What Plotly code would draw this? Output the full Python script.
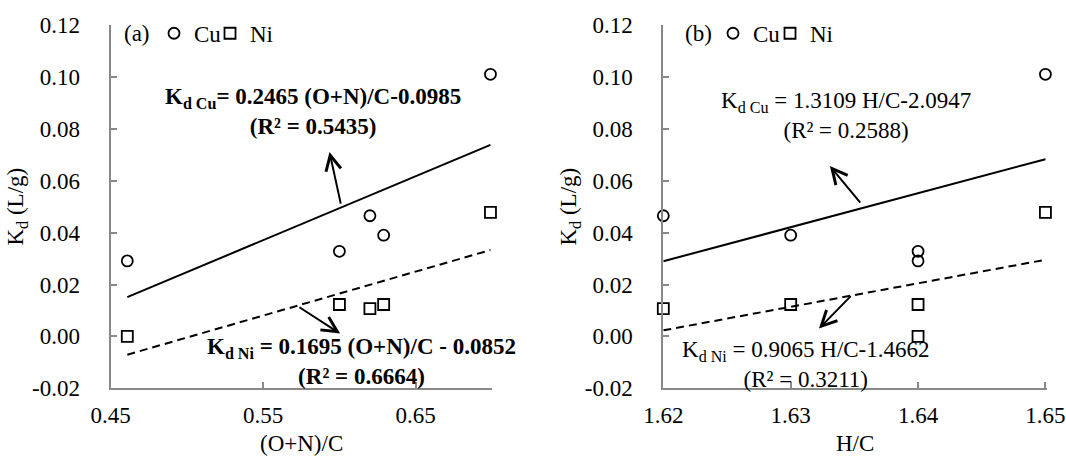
import plotly.graph_objects as go

# ---- data ----
on_c = [0.461, 0.600, 0.620, 0.629, 0.699]      # (O+N)/C
h_c = [1.64, 1.64, 1.62, 1.63, 1.65]            # H/C
kd_cu = [0.0291, 0.0328, 0.0465, 0.0390, 0.1010]
kd_ni = [0.0000, 0.0123, 0.0107, 0.0123, 0.0478]

# linear fits as printed on the chart (slope, intercept)
fit_a_cu = (0.2465, -0.0985)
fit_a_ni = (0.1695, -0.0852)
fit_b_cu = (1.3109, -2.0947)
fit_b_ni = (0.9065, -1.4662)

y_ticks = [-0.02, 0.00, 0.02, 0.04, 0.06, 0.08, 0.10, 0.12]
x_ticks_a = [0.45, 0.55, 0.65]
x_ticks_b = [1.62, 1.63, 1.64, 1.65]

FONT = "Liberation Serif, Times New Roman, serif"
FS = 23
AX_COL = "#898989"
W, H = 1066, 457

fig = go.Figure()


def line_pts(xs, fit):
    x0, x1 = min(xs), max(xs)
    return [x0, x1], [fit[0] * x0 + fit[1], fit[0] * x1 + fit[1]]


def mk(sym):
    return dict(symbol=sym, size=11, color="black", line=dict(width=1.8, color="black"))


# ---- panel (a) ----
lx, ly = line_pts(on_c, fit_a_cu)
fig.add_trace(go.Scatter(x=lx, y=ly, mode="lines", line=dict(color="black", width=2),
                         showlegend=False, xaxis="x", yaxis="y", hoverinfo="skip"))
lx, ly = line_pts(on_c, fit_a_ni)
fig.add_trace(go.Scatter(x=lx, y=ly, mode="lines", line=dict(color="black", width=2, dash="8px,5px"),
                         showlegend=False, xaxis="x", yaxis="y", hoverinfo="skip"))
fig.add_trace(go.Scatter(x=on_c, y=kd_cu, mode="markers", name="Cu", marker=mk("circle-open"),
                         xaxis="x", yaxis="y", legend="legend", cliponaxis=False))
fig.add_trace(go.Scatter(x=on_c, y=kd_ni, mode="markers", name="Ni", marker=mk("square-open"),
                         xaxis="x", yaxis="y", legend="legend2", cliponaxis=False))

# ---- panel (b) ----
lx, ly = line_pts(h_c, fit_b_cu)
fig.add_trace(go.Scatter(x=lx, y=ly, mode="lines", line=dict(color="black", width=2),
                         showlegend=False, xaxis="x2", yaxis="y2", hoverinfo="skip"))
lx, ly = line_pts(h_c, fit_b_ni)
fig.add_trace(go.Scatter(x=lx, y=ly, mode="lines", line=dict(color="black", width=2, dash="8px,5px"),
                         showlegend=False, xaxis="x2", yaxis="y2", hoverinfo="skip"))
fig.add_trace(go.Scatter(x=h_c, y=kd_cu, mode="markers", name="Cu", marker=mk("circle-open"),
                         xaxis="x2", yaxis="y2", legend="legend3", cliponaxis=False))
fig.add_trace(go.Scatter(x=h_c, y=kd_ni, mode="markers", name="Ni", marker=mk("square-open"),
                         xaxis="x2", yaxis="y2", legend="legend4", cliponaxis=False))

dom_a = [110.5 / W, 492.0 / W]
dom_b = [663.3 / W, 1046.7 / W]
dom_y = [1 - 388.3 / H, 1 - 25.0 / H]

tf = dict(family=FONT, size=FS, color="black")
axis_base = dict(showgrid=False, zeroline=False, showline=True, linecolor=AX_COL, linewidth=2,
                 ticks="inside", ticklen=6, tickcolor=AX_COL, tickwidth=1.5,
                 tickfont=dict(family=FONT, size=FS, color="black"), automargin=False)
xa = dict(axis_base, ticklabelstandoff=5)
ya = dict(axis_base, ticklabelstandoff=24, range=[-0.02, 0.12], tickvals=y_ticks,
          ticktext=[f"{v:.2f}" for v in y_ticks],
          title=dict(text="K<sub>d</sub> (L/g)", font=tf, standoff=2))


def leg(xpx):
    return dict(orientation="h", x=xpx / W, y=1 - 33.3 / H, xanchor="left", yanchor="middle",
                font=tf, bgcolor="rgba(0,0,0,0)", itemclick=False, itemdoubleclick=False,
                borderwidth=0)


fig.update_layout(
    template="none",
    width=W, height=H, margin=dict(l=0, r=0, t=0, b=0, autoexpand=False),
    paper_bgcolor="white", plot_bgcolor="white",
    font=tf,
    xaxis=dict(xa, domain=dom_a, range=[0.45, 0.70], tickvals=x_ticks_a,
               ticktext=[f"{v:.2f}" for v in x_ticks_a], anchor="y"),
    yaxis=dict(ya, domain=dom_y, anchor="x"),
    xaxis2=dict(xa, domain=dom_b, range=[1.62, 1.6501], tickvals=x_ticks_b,
                ticktext=[f"{v:.2f}" for v in x_ticks_b], anchor="y2"),
    yaxis2=dict(ya, domain=dom_y, anchor="x2"),
    legend=leg(154), legend2=leg(210), legend3=leg(713), legend4=leg(770),
    showlegend=True,
)

ann = []
# x-axis titles
ann.append(dict(text="(O+N)/C", x=sum(dom_a) / 2, y=1 - 443 / H, xref="paper", yref="paper",
                showarrow=False, xanchor="center", yanchor="middle", font=tf))
ann.append(dict(text="H/C", x=sum(dom_b) / 2, y=1 - 443 / H, xref="paper", yref="paper",
                showarrow=False, xanchor="center", yanchor="middle", font=tf))
# panel labels
ann.append(dict(text="(a)", x=137 / W, y=1 - 33.3 / H, xref="paper", yref="paper", showarrow=False,
                xanchor="center", yanchor="middle", font=tf))
ann.append(dict(text="(b)", x=698 / W, y=1 - 33.3 / H, xref="paper", yref="paper", showarrow=False,
                xanchor="center", yanchor="middle", font=tf))
# equations
ann.append(dict(text="<b>K<sub>d Cu</sub>= 0.2465 (O+N)/C-0.0985<br>(R² = 0.5435)</b>",
                x=0.583, y=0.0868, xref="x", yref="y", showarrow=False, align="center", font=tf))
ann.append(dict(text="<b>K<sub>d Ni</sub> = 0.1695 (O+N)/C - 0.0852<br>(R² = 0.6664)</b>",
                x=0.6147, y=-0.0097, xref="x", yref="y", showarrow=False, align="center", font=tf))
ann.append(dict(text="K<sub>d Cu</sub> = 1.3109 H/C-2.0947<br>(R² = 0.2588)",
                x=1.63432, y=0.0850, xref="x2", yref="y2", showarrow=False, align="center", font=tf))
ann.append(dict(text="K<sub>d Ni</sub> = 0.9065 H/C-1.4662<br>(R² = 0.3211)",
                x=1.63117, y=-0.0108, xref="x2", yref="y2", showarrow=False, align="center", font=tf))
# arrows
arrow = dict(text="", showarrow=True, arrowhead=5, arrowsize=1.5, arrowwidth=2, arrowcolor="black")
ann.append(dict(x=0.5935, y=0.0711, ax=0.6011, ay=0.0506, xref="x", yref="y", axref="x", ayref="y", **arrow))
ann.append(dict(x=0.6005, y=0.0011, ax=0.5728, ay=0.0116, xref="x", yref="y", axref="x", ayref="y", **arrow))
ann.append(dict(x=1.63308, y=0.0657, ax=1.63556, ay=0.0510, xref="x2", yref="y2", axref="x2", ayref="y2", **arrow))
ann.append(dict(x=1.63222, y=0.0030, ax=1.63483, ay=0.0161, xref="x2", yref="y2", axref="x2", ayref="y2", **arrow))

fig.update_layout(annotations=ann)
fig.write_html("out.html")
